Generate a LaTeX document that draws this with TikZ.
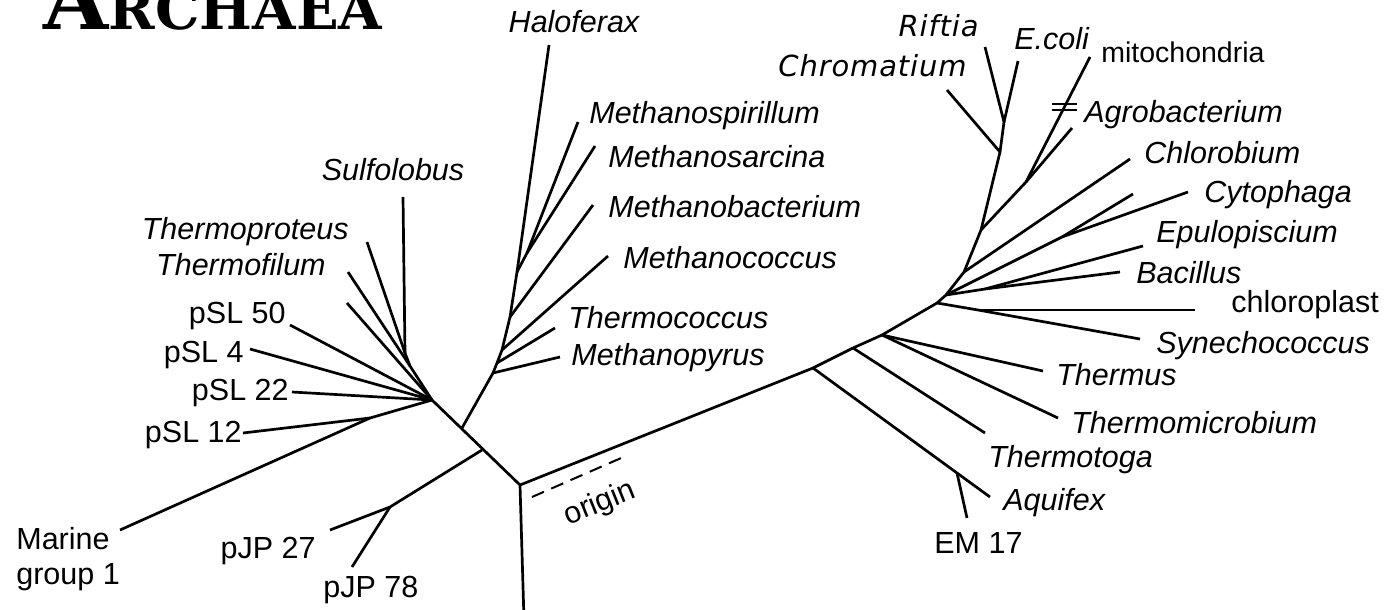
\documentclass[tikz,border=0pt]{standalone}
\usepackage{fontspec}
\setmainfont{Liberation Sans}
\newfontfamily\spacedfont[LetterSpace=3]{DejaVu Sans}
\newfontfamily\titlefont{DejaVu Serif}
\usepackage{tikz}

\begin{document}
\begin{tikzpicture}[x=1pt, y=-1pt,
    line width=2.7pt,
    every node/.style={inner sep=0pt, font=\fontsize{30.5}{35}\selectfont},
    taxon/.style={font=\fontsize{30.5}{35}\selectfont\itshape},
    clone/.style={font=\fontsize{30.5}{35}\selectfont},
    spaced/.style={font=\fontsize{29}{32}\selectfont\spacedfont\itshape}
  ]
\useasboundingbox (0,0) rectangle (1400,610);

\node[anchor=base west] (title) at (42,30)
  {\titlefont\bfseries\fontsize{84}{84}\selectfont A\fontsize{56}{56}\selectfont RCHAEA};

\coordinate (root) at (520,485);
\coordinate (euk) at (524,620);
\coordinate (arch) at (432,400);
\coordinate (eury) at (462,428);
\coordinate (pjp) at (482,450);
\coordinate (pjpn) at (390,507);
\coordinate (pjp27) at (330,530);
\coordinate (pjp78) at (352,567);
\coordinate (marn) at (370,418);
\coordinate (marine) at (120,530);
\coordinate (psl12) at (243,433);
\coordinate (psl22) at (292,392);
\coordinate (psl4) at (250,349);
\coordinate (psl50) at (290,325);
\coordinate (cren0) at (347,303);
\coordinate (crena) at (410,366);
\coordinate (crenb) at (405,353);
\coordinate (sulfo) at (403,197);
\coordinate (tproteus) at (367,242);
\coordinate (tfilum) at (348,272);

\coordinate (eu1) at (493,373);
\coordinate (eu2) at (497,363);
\coordinate (eu3) at (502,350);
\coordinate (eu4) at (510,317);
\coordinate (eu5) at (517,272);
\coordinate (eu6) at (527,253);
\coordinate (mpyrus) at (560,357);
\coordinate (tcoccus) at (555,328);
\coordinate (mcoccus) at (608,256);
\coordinate (mbact) at (593,205);
\coordinate (halo) at (549,45);
\coordinate (mspir) at (578,122);
\coordinate (msarc) at (595,146);

\coordinate (b1) at (813,368);
\coordinate (b2) at (853,348);
\coordinate (b3) at (882,335);
\coordinate (b4) at (937,303);
\coordinate (b5) at (946,295);
\coordinate (aqn) at (957,473);
\coordinate (aquifex) at (990,497);
\coordinate (em17) at (967,518);
\coordinate (tmtoga) at (985,433);
\coordinate (thermus) at (1043,371);
\coordinate (tmicro) at (1058,418);
\coordinate (cs) at (978,310);
\coordinate (syn) at (1140,339);
\coordinate (chloro) at (1195,310);
\coordinate (be) at (985,289);
\coordinate (bacillus) at (1120,272);
\coordinate (epulo) at (1143,246);
\coordinate (cy) at (1062,237);
\coordinate (cyto0) at (1133,194);
\coordinate (cyto) at (1188,192);
\coordinate (p1) at (964,272);
\coordinate (p2) at (981,230);
\coordinate (p3) at (1000,152);
\coordinate (p4) at (1004,122);
\coordinate (chlorob) at (1130,159);
\coordinate (al) at (1026,182);
\coordinate (mito) at (1090,57);
\coordinate (agro) at (1072,128);
\coordinate (chrom) at (947,90);
\coordinate (riftia) at (985,47);
\coordinate (ecoli) at (1018,61);
\coordinate (bar) at (1064,107);
\coordinate (dasha) at (532,497);
\coordinate (dashb) at (628,455);

\draw (euk) -- (root) -- (arch);
\draw (arch) -- (marn) -- (marine);
\draw (marn) -- (psl12);
\draw (arch) -- (psl22);
\draw (arch) -- (psl4);
\draw (arch) -- (psl50);
\draw (arch) -- (cren0);
\draw (arch) -- (crena) -- (crenb) -- (sulfo);
\draw (crenb) -- (tproteus);
\draw (crena) -- (tfilum);
\draw (pjp) -- (pjpn) -- (pjp27);
\draw (pjpn) -- (pjp78);
\draw (eury) -- (eu1) -- (eu2) -- (eu3) -- (eu4) -- (eu5) -- (halo);
\draw (eu1) -- (mpyrus);
\draw (eu2) -- (tcoccus);
\draw (eu3) -- (mcoccus);
\draw (eu4) -- (mbact);
\draw (eu5) -- (eu6) -- (mspir);
\draw (eu6) -- (msarc);

\draw (root) -- (b1) -- (b2) -- (b3) -- (b4) -- (b5);
\draw (b1) -- (aqn) -- (aquifex);
\draw (aqn) -- (em17);
\draw (b2) -- (tmtoga);
\draw (b3) -- (thermus);
\draw (b3) -- (tmicro);
\draw (b4) -- (cs) -- (syn);
\draw (cs) -- (chloro);
\draw (b5) -- (be) -- (bacillus);
\draw (be) -- (epulo);
\draw (b5) -- (cy) -- (cyto);
\draw (cy) -- (cyto0);
\draw (b5) -- (p1) -- (p2) -- (p3) -- (p4) -- (riftia);
\draw (p4) -- (ecoli);
\draw (p1) -- (chlorob);
\draw (p2) -- (al) -- (mito);
\draw (al) -- (agro);
\draw (p3) -- (chrom);
\draw[line width=2pt] ([xshift=-12pt,yshift=3pt]bar) -- ([xshift=13pt,yshift=3pt]bar)
  ([xshift=-12pt,yshift=-3pt]bar) -- ([xshift=13pt,yshift=-3pt]bar);
\draw[line width=2pt, dash pattern=on 13pt off 8pt] (dasha) -- (dashb);
\node[clone, rotate=22] (originlabel) at (600,504) {origin};

\node[taxon, anchor=base] (lsulfo) at (393,180) {Sulfolobus};
\node[taxon, anchor=base east] (ltproteus) at (350,239) {Thermoproteus};
\node[taxon, anchor=base east] (ltfilum) at (327,275) {Thermofilum};
\node[clone, anchor=base east] (lpsl50) at (287,323) {pSL 50};
\node[clone, anchor=base east] (lpsl4) at (245,362) {pSL 4};
\node[clone, anchor=base east] (lpsl22) at (290,400) {pSL 22};
\node[clone, anchor=base east] (lpsl12) at (243,442) {pSL 12};
\node[clone, anchor=north west, align=left] (lmarine) at (15,526) {Marine\\group 1};
\node[clone, anchor=base east] (lpjp27) at (317,558) {pJP 27};
\node[clone, anchor=base west] (lpjp78) at (322,597) {pJP 78};

\node[taxon, anchor=base] (lhalo) at (574,33) {Haloferax};
\node[taxon, anchor=base west] (lmspir) at (588,123) {Methanospirillum};
\node[taxon, anchor=base west] (lmsarc) at (607,167) {Methanosarcina};
\node[taxon, anchor=base west] (lmbact) at (607,217) {Methanobacterium};
\node[taxon, anchor=base west] (lmcoccus) at (622,268) {Methanococcus};
\node[taxon, anchor=base west] (ltcoccus) at (567,328) {Thermococcus};
\node[taxon, anchor=base west] (lmpyrus) at (570,365) {Methanopyrus};

\node[spaced, anchor=base east] (lriftia) at (980,37) {Riftia};
\node[spaced, anchor=base east] (lchrom) at (968,77) {Chromatium};
\node[taxon, anchor=base west] (lecoli) at (1013,50) {E.coli};
\node[clone, anchor=base west, font=\fontsize{28.5}{32}\selectfont] (lmito) at (1100,63) {mitochondria};
\node[taxon, anchor=base west] (lagro) at (1083,122) {Agrobacterium};
\node[taxon, anchor=base west] (lchlorob) at (1143,163) {Chlorobium};
\node[taxon, anchor=base west] (lcyto) at (1203,202) {Cytophaga};
\node[taxon, anchor=base west] (lepulo) at (1155,242) {Epulopiscium};
\node[taxon, anchor=base west] (lbacillus) at (1135,283) {Bacillus};
\node[clone, anchor=base west] (lchloro) at (1230,312) {chloroplast};
\node[taxon, anchor=base west] (lsyn) at (1155,353) {Synechococcus};
\node[taxon, anchor=base west] (lthermus) at (1055,385) {Thermus};
\node[taxon, anchor=base west] (ltmicro) at (1070,433) {Thermomicrobium};
\node[taxon, anchor=base west] (ltmtoga) at (987,467) {Thermotoga};
\node[taxon, anchor=base west] (laquifex) at (1002,510) {Aquifex};
\node[clone, anchor=base west] (lem17) at (933,553) {EM 17};
\end{tikzpicture}
\end{document}
